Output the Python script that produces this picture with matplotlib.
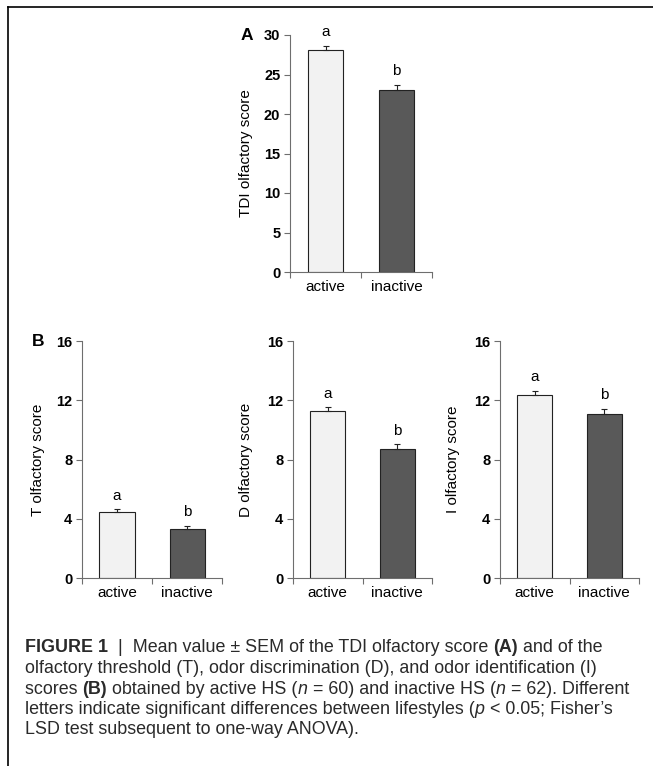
import matplotlib
matplotlib.use("Agg")
import matplotlib.pyplot as plt
from matplotlib.lines import Line2D

plt.rcParams["font.family"] = ["Liberation Sans", "DejaVu Sans"]

GROUPS = ["active", "inactive"]

TDI_MEAN = [28.1, 23.1]
TDI_SEM = [0.55, 0.6]

T_MEAN = [4.48, 3.31]
T_SEM = [0.16, 0.22]
D_MEAN = [11.27, 8.71]
D_SEM = [0.25, 0.31]
I_MEAN = [12.38, 11.05]
I_SEM = [0.27, 0.35]

LETTERS = ["a", "b"]

BAR_COLORS = ["#f2f2f2", "#595959"]
SPINE = "#6e6e6e"

W, H = 653, 766


def px_axes(fig, left, top, right, bottom):
    return fig.add_axes([left / W, 1 - bottom / H, (right - left) / W, (bottom - top) / H])


def bar_panel(ax, means, sems, ymax, step, ylabel, label_x):
    xs = [0.5, 1.5]
    ax.bar(xs, means, width=0.5, color=BAR_COLORS, edgecolor="#222222", linewidth=0.8, zorder=2)
    ax.errorbar(xs, means, yerr=[[0, 0], sems], fmt="none", ecolor="#222222",
                elinewidth=0.8, capsize=2.2, capthick=0.8, zorder=3)
    for x, m, s, letter in zip(xs, means, sems, LETTERS):
        ax.annotate(letter, (x, m + s), xytext=(0, 7), textcoords="offset points",
                    ha="center", va="baseline", fontsize=11)
    ax.set_xlim(0, 2)
    ax.set_ylim(0, ymax)
    ax.set_yticks(range(0, ymax + 1, step))
    ax.set_xticks([0, 1, 2])
    ax.set_xticklabels([])
    ax.set_xticks(xs, minor=True)
    ax.set_xticklabels(GROUPS, minor=True, fontsize=11)
    ax.tick_params(axis="x", which="minor", length=0, pad=6)
    ax.tick_params(axis="x", which="major", length=4, width=0.8, color=SPINE)
    ax.tick_params(axis="y", length=4, width=0.8, color=SPINE, labelsize=10.5, pad=3)
    for t in ax.get_yticklabels():
        t.set_fontweight("bold")
    for side in ("top", "right"):
        ax.spines[side].set_visible(False)
    for side in ("left", "bottom"):
        ax.spines[side].set_color(SPINE)
        ax.spines[side].set_linewidth(0.8)
    ax.set_ylabel(ylabel, fontsize=11)
    ax.yaxis.set_label_coords(label_x, 0.5)


fig = plt.figure(figsize=(W / 100, H / 100), dpi=100)

ax_a = px_axes(fig, 290, 35, 432, 272)
bar_panel(ax_a, TDI_MEAN, TDI_SEM, 30, 5, "TDI olfactory score", -0.26)

ax_t = px_axes(fig, 82, 341, 222, 578)
bar_panel(ax_t, T_MEAN, T_SEM, 16, 4, "T olfactory score", -0.265)
ax_d = px_axes(fig, 293, 341, 432, 578)
bar_panel(ax_d, D_MEAN, D_SEM, 16, 4, "D olfactory score", -0.29)
ax_i = px_axes(fig, 500, 341, 639, 578)
bar_panel(ax_i, I_MEAN, I_SEM, 16, 4, "I olfactory score", -0.29)

fig.text(247 / W, 1 - 35 / H, "A", fontsize=12.5, fontweight="bold", ha="center", va="center")
fig.text(38 / W, 1 - 341 / H, "B", fontsize=12.5, fontweight="bold", ha="center", va="center")

# frame lines on the left and top
fig.add_artist(Line2D([8 / W, 8 / W], [0, 1 - 7 / H], color="black", lw=1.2))
fig.add_artist(Line2D([8 / W, 1], [1 - 7 / H, 1 - 7 / H], color="black", lw=1.2))

CAPTION = [
    [("FIGURE 1", "bold"), ("  |  Mean value \u00b1 SEM of the TDI olfactory score ", "normal"),
     ("(A)", "bold"), (" and of the", "normal")],
    [("olfactory threshold (T), odor discrimination (D), and odor identification (I)", "normal")],
    [("scores ", "normal"), ("(B)", "bold"), (" obtained by active HS (", "normal"), ("n", "italic"),
     (" = 60) and inactive HS (", "normal"), ("n", "italic"), (" = 62). Different", "normal")],
    [("letters indicate significant differences between lifestyles (", "normal"), ("p", "italic"),
     (" < 0.05; Fisher\u2019s", "normal")],
    [("LSD test subsequent to one-way ANOVA).", "normal")],
]

# caption runs are laid out left to right using measured widths
renderer = fig.canvas.get_renderer()
y = 648
for line in CAPTION:
    x = 25
    for text, style in line:
        kw = {}
        if style == "bold":
            kw["fontweight"] = "bold"
        elif style == "italic":
            kw["fontstyle"] = "italic"
        t = fig.text(x / W, 1 - y / H, text, fontsize=12.9, color="#2a2a2a",
                     va="center", ha="left", **kw)
        x += t.get_window_extent(renderer).width
    y += 20.5

fig.savefig("out.png", dpi=100)
